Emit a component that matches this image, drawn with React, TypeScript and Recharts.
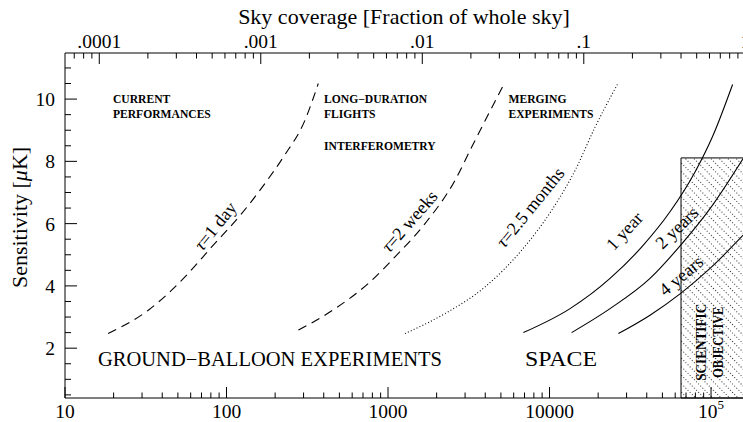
import { ComposedChart, Line, Scatter, XAxis, YAxis, ReferenceArea } from 'recharts';

const FONT = '"Liberation Serif", "Times New Roman", serif';
const VISIBLE_W = 743;
const CHART_W = 760;
const CHART_H = 422;

// bottom axis units per whole sky (top axis = x / WHOLE_SKY)
const WHOLE_SKY = 163000;
const X_DOMAIN: [number, number] = [10, 201000];
const Y_DOMAIN: [number, number] = [0.4, 11.48];

const xMajor = [10, 100, 1000, 10000, 100000];
const skyMajor = [0.0001, 0.001, 0.01, 0.1, 1];
const skyLabels = ['.0001', '.001', '.01', '.1', '1'];
const yMajor = [2, 4, 6, 8, 10];
const minorSteps = [2, 3, 4, 5, 6, 7, 8, 9];

const xTicks = [...xMajor, ...xMajor.flatMap((d) => minorSteps.map((m) => m * d))].filter(
  (v) => v >= X_DOMAIN[0] && v <= X_DOMAIN[1],
);
const skyTicks = [...skyMajor, ...[0.00001, ...skyMajor].flatMap((d) => minorSteps.map((m) => m * d))].filter(
  (v) => v >= X_DOMAIN[0] / WHOLE_SKY && v <= X_DOMAIN[1] / WHOLE_SKY,
);
const yTicks = Array.from({ length: 22 }, (_, i) => (i + 1) * 0.5);

// curves: x = bottom axis, y = sensitivity in uK
const oneDay = [
  { x: 18.5, y: 2.47 }, { x: 32.8, y: 3.22 }, { x: 55.3, y: 4.29 }, { x: 80.9, y: 5.25 },
  { x: 124, y: 6.32 }, { x: 173, y: 7.29 }, { x: 225, y: 8.14 }, { x: 306, y: 9.32 }, { x: 370, y: 10.5 },
];
const twoWeeks = [
  { x: 279, y: 2.58 }, { x: 470, y: 3.27 }, { x: 755, y: 4.08 }, { x: 1104, y: 4.93 },
  { x: 1694, y: 6.0 }, { x: 2600, y: 7.39 }, { x: 3297, y: 8.46 }, { x: 5176, y: 10.44 },
];
const twoHalfMonths = [
  { x: 1273, y: 2.47 }, { x: 2254, y: 3.11 }, { x: 3990, y: 3.97 }, { x: 6730, y: 5.15 },
  { x: 10320, y: 6.43 }, { x: 14400, y: 7.71 }, { x: 19150, y: 9.1 }, { x: 26300, y: 10.47 },
];
const oneYear = [
  { x: 6890, y: 2.5 }, { x: 13400, y: 3.27 }, { x: 23700, y: 4.24 }, { x: 38100, y: 5.31 },
  { x: 55700, y: 6.38 }, { x: 79600, y: 7.66 }, { x: 103000, y: 8.84 }, { x: 136000, y: 10.47 },
];
const twoYears = [
  { x: 13700, y: 2.5 }, { x: 23700, y: 3.27 }, { x: 41900, y: 4.24 }, { x: 64900, y: 5.31 },
  { x: 98600, y: 6.48 }, { x: 158000, y: 8.09 },
];
const fourYears = [
  { x: 26700, y: 2.47 }, { x: 41900, y: 3.06 }, { x: 64900, y: 3.76 }, { x: 98600, y: 4.56 },
  { x: 158000, y: 5.63 },
];

// scientific objective box
const objective = { x1: 65200, y2: 8.11 };

// annotations, anchored in data coordinates
const noteLabels = [
  { x: 19.8, y: 9.87, text: 'CURRENT' },
  { x: 19.8, y: 9.39, text: 'PERFORMANCES' },
  { x: 401.6, y: 9.87, text: 'LONG−DURATION' },
  { x: 401.6, y: 9.39, text: 'FLIGHTS' },
  { x: 401.6, y: 8.36, text: 'INTERFEROMETRY' },
  { x: 5572, y: 9.87, text: 'MERGING' },
  { x: 5572, y: 9.39, text: 'EXPERIMENTS' },
];
const regionLabels = [
  { x: 16.0, y: 1.42, text: 'GROUND−BALLOON EXPERIMENTS', len: 344 },
  { x: 7047, y: 1.42, text: 'SPACE', len: 72 },
];
const curveLabels = [
  { x: 91.2, y: 5.8, angle: -51, tau: true, text: '=1 day' },
  { x: 1449, y: 5.95, angle: -49, tau: true, text: '=2 weeks' },
  { x: 8128, y: 6.4, angle: -51, tau: true, text: '=2.5 months' },
  { x: 31000, y: 5.63, angle: -47, tau: false, text: '1 year' },
  { x: 65200, y: 5.73, angle: -44, tau: false, text: '2 years' },
  { x: 69000, y: 4.18, angle: -40, tau: false, text: '4 years' },
];
const objectiveLabel = [{ x: 93100, y: 2.19, lines: ['SCIENTIFIC', 'OBJECTIVE'] }];

const tickFont = { fontFamily: FONT, fontSize: 19.5, fill: '#000', style: { fontFamily: FONT } };

function BottomTick(props: any) {
  const { x, y, payload } = props;
  const v = payload.value;
  const major = xMajor.includes(v);
  return (
    <g>
      <line x1={x} x2={x} y1={y} y2={y - (major ? 11 : 5.5)} stroke="#000" strokeWidth={1} />
      {major && (
        <text x={x} y={y + 20} textAnchor="middle" {...tickFont}>
          {v === 100000 ? (
            <>
              10<tspan dy={-9} fontSize={13}>5</tspan>
            </>
          ) : (
            String(v)
          )}
        </text>
      )}
    </g>
  );
}

function TopTick(props: any) {
  const { x, y, payload } = props;
  const idx = skyMajor.indexOf(payload.value);
  const major = idx >= 0;
  return (
    <g>
      <line x1={x} x2={x} y1={y} y2={y + (major ? 11 : 5.5)} stroke="#000" strokeWidth={1} />
      {major && (
        <text x={x} y={y - 5} textAnchor="middle" {...tickFont}>
          {skyLabels[idx]}
        </text>
      )}
    </g>
  );
}

function LeftTick(props: any) {
  const { x, y, payload } = props;
  const major = yMajor.includes(payload.value);
  return (
    <g>
      <line x1={x} x2={x + (major ? 12 : 6)} y1={y} y2={y} stroke="#000" strokeWidth={1} />
      {major && (
        <text x={x - 10} y={y + 7} textAnchor="end" {...tickFont}>
          {payload.value}
        </text>
      )}
    </g>
  );
}

const topTitle = (props: any) => {
  const vb = props.viewBox;
  return (
    <text
      x={vb.x + (VISIBLE_W - vb.x) / 2}
      y={24}
      textAnchor="middle"
      fontFamily={FONT}
      style={{ fontFamily: FONT }}
      fontSize={22}
      fill="#000"
    >
      Sky coverage [Fraction of whole sky]
    </text>
  );
};

const yTitle = (props: any) => {
  const vb = props.viewBox;
  return (
    <text
      transform={`translate(${vb.x + 27},${vb.y + vb.height / 2 - 8}) rotate(-90)`}
      textAnchor="middle"
      fontFamily={FONT}
      style={{ fontFamily: FONT }}
      fontSize={22}
      fill="#000"
    >
      Sensitivity [<tspan fontStyle="italic">μ</tspan>K]
    </text>
  );
};

const NoteShape = (p: any) => (
  <text x={p.cx} y={p.cy} fontFamily={FONT} fontSize={11.6} fontWeight="bold" fill="#000">
    {p.payload.text}
  </text>
);

const RegionShape = (p: any) => (
  <text
    x={p.cx}
    y={p.cy}
    fontFamily={FONT}
    fontSize={20.5}
    fill="#000"
    textLength={p.payload.len}
    lengthAdjust="spacingAndGlyphs"
  >
    {p.payload.text}
  </text>
);

const CurveLabelShape = (p: any) => (
  <text
    transform={`translate(${p.cx},${p.cy}) rotate(${p.payload.angle})`}
    textAnchor="middle"
    dy={0}
    fontFamily={FONT}
    fontSize={18}
    fill="#000"
  >
    {p.payload.tau && <tspan fontStyle="italic">τ</tspan>}
    {p.payload.text}
  </text>
);

const ObjectiveShape = (p: any) => (
  <text
    transform={`translate(${p.cx},${p.cy}) rotate(-90)`}
    textAnchor="middle"
    fontFamily={FONT}
    fontSize={14}
    fontWeight="bold"
    fill="#000"
  >
    <tspan x={0} y={0} textLength={77} lengthAdjust="spacingAndGlyphs">
      {p.payload.lines[0]}
    </tspan>
    <tspan x={0} y={17} textLength={71} lengthAdjust="spacingAndGlyphs">
      {p.payload.lines[1]}
    </tspan>
  </text>
);

const curves = [
  { data: oneDay, dash: '9 6' },
  { data: twoWeeks, dash: '9 6' },
  { data: twoHalfMonths, dash: '1 2.2' },
  { data: oneYear, dash: undefined },
  { data: twoYears, dash: undefined },
  { data: fourYears, dash: undefined },
];

export default function App() {
  return (
    <div
      style={{
        position: 'absolute',
        left: 0,
        top: 0,
        width: VISIBLE_W,
        height: CHART_H,
        overflow: 'hidden',
        background: '#fff',
      }}
    >
      <svg width={0} height={0} style={{ position: 'absolute' }}>
        <defs>
          <pattern id="hatch" width={6} height={6} patternUnits="userSpaceOnUse" patternTransform="rotate(-45)">
            <line x1={0.5} y1={0} x2={0.5} y2={6} stroke="#000" strokeWidth={0.8} strokeDasharray="1 2" />
          </pattern>
        </defs>
      </svg>
      <ComposedChart width={CHART_W} height={CHART_H} margin={{ top: 0, right: 0, bottom: 0, left: 0 }}>
        <XAxis
          dataKey="x"
          type="number"
          scale="log"
          domain={X_DOMAIN}
          allowDataOverflow
          ticks={xTicks}
          interval={0}
          height={24}
          tickSize={0}
          tickMargin={0}
          tick={BottomTick}
          axisLine={{ stroke: '#000', strokeWidth: 1 }}
        />
        <XAxis
          xAxisId="top"
          orientation="top"
          dataKey="x"
          type="number"
          scale="log"
          domain={[X_DOMAIN[0] / WHOLE_SKY, X_DOMAIN[1] / WHOLE_SKY]}
          allowDataOverflow
          ticks={skyTicks}
          interval={0}
          height={53}
          tickSize={0}
          tickMargin={0}
          tick={TopTick}
          axisLine={{ stroke: '#000', strokeWidth: 1 }}
          label={topTitle}
        />
        <YAxis
          type="number"
          domain={Y_DOMAIN}
          allowDataOverflow
          ticks={yTicks}
          interval={0}
          width={65}
          tickSize={0}
          tickMargin={0}
          tick={LeftTick}
          axisLine={{ stroke: '#000', strokeWidth: 1 }}
          label={yTitle}
        />
        <ReferenceArea
          x1={objective.x1}
          x2={X_DOMAIN[1]}
          y1={Y_DOMAIN[0]}
          y2={objective.y2}
          fill="url(#hatch)"
          fillOpacity={1}
          stroke="#000"
          strokeWidth={1}
        />
        {curves.map((c, i) => (
          <Line
            key={i}
            data={c.data}
            dataKey="y"
            type="monotone"
            stroke="#000"
            strokeWidth={1.1}
            strokeDasharray={c.dash}
            dot={false}
            activeDot={false}
            isAnimationActive={false}
          />
        ))}
        <Scatter data={noteLabels} dataKey="y" shape={NoteShape} isAnimationActive={false} />
        <Scatter data={regionLabels} dataKey="y" shape={RegionShape} isAnimationActive={false} />
        <Scatter data={curveLabels} dataKey="y" shape={CurveLabelShape} isAnimationActive={false} />
        <Scatter data={objectiveLabel} dataKey="y" shape={ObjectiveShape} isAnimationActive={false} />
      </ComposedChart>
    </div>
  );
}
